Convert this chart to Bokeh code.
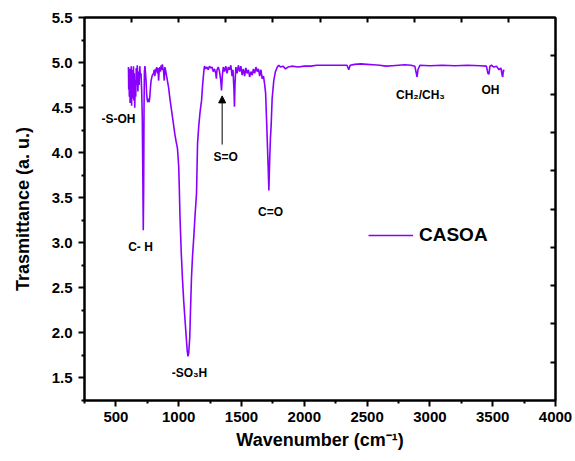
from bokeh.plotting import figure
from bokeh.models import (FixedTicker, LinearAxis, Legend, LegendItem, Arrow, NormalHead,
                          ColumnDataSource, NumeralTickFormatter)
from bokeh.core.properties import value
from bokeh.embed import file_html
from bokeh.resources import INLINE

# ---- data ----
wavenumber = [600, 602, 604, 607, 610, 613, 616, 619, 622, 625, 628, 631, 634, 637, 640, 643, 646, 650,
              654, 658, 662, 666, 670, 675, 680, 685, 690, 695, 700, 705, 710, 714, 718, 721, 724, 727,
              731, 735, 740, 745, 750, 755, 760, 765, 770, 775, 780, 790, 800, 805, 810, 815, 820, 825,
              830, 835, 840, 845, 850, 855, 860, 865, 870, 875, 880, 885, 890, 895, 900, 910, 920, 930,
              940, 950, 960, 970, 980, 990, 1000, 1005, 1010, 1020, 1030, 1040, 1050, 1060, 1068, 1074,
              1080, 1088, 1095, 1102, 1110, 1120, 1130, 1142, 1150, 1160, 1170, 1182, 1192, 1200, 1205,
              1215, 1225, 1235, 1245, 1255, 1265, 1275, 1285, 1295, 1300, 1305, 1315, 1325, 1335, 1341,
              1347, 1355, 1365, 1375, 1385, 1395, 1405, 1415, 1425, 1432, 1440, 1444, 1448, 1455, 1465,
              1475, 1485, 1495, 1505, 1515, 1525, 1535, 1545, 1555, 1565, 1575, 1585, 1595, 1605, 1615,
              1625, 1635, 1645, 1655, 1665, 1675, 1685, 1692, 1700, 1706, 1712, 1718, 1724, 1730, 1736,
              1744, 1757, 1770, 1785, 1797, 1810, 1830, 1850, 1870, 1900, 1950, 2000, 2050, 2100, 2150,
              2200, 2250, 2300, 2340, 2354, 2365, 2400, 2450, 2500, 2550, 2600, 2650, 2700, 2750, 2800,
              2850, 2880, 2898, 2905, 2920, 3000, 3100, 3200, 3300, 3400, 3450, 3462, 3470, 3478, 3490,
              3510, 3530, 3550, 3565, 3575, 3580, 3585, 3590]
transmittance = [4.95, 4.70, 4.88, 4.62, 4.93, 4.55, 4.90, 4.66, 4.96, 4.52, 4.85, 4.60, 4.92, 4.70, 4.96, 4.58, 4.88, 4.50,
                 4.80, 4.62, 4.94, 4.75, 4.97, 4.68, 4.90, 4.75, 4.96, 4.85, 4.88, 4.70, 4.40, 3.80, 3.14, 3.60, 4.50, 4.90,
                 4.96, 4.90, 4.80, 4.65, 4.58, 4.56, 4.60, 4.56, 4.62, 4.72, 4.80, 4.86, 4.88, 4.92, 4.85, 4.93, 4.90, 4.95,
                 4.88, 4.94, 4.80, 4.92, 4.95, 4.90, 4.97, 4.92, 4.98, 4.93, 4.90, 4.80, 4.95, 4.92, 4.88, 4.80, 4.72, 4.60,
                 4.50, 4.40, 4.30, 4.20, 4.12, 4.05, 3.85, 3.60, 3.30, 2.90, 2.60, 2.35, 2.15, 1.95, 1.80, 1.74,
                 1.78, 1.95, 2.30, 2.62, 2.85, 3.06, 3.30, 3.55, 4.10, 4.30, 4.45, 4.58, 4.78, 4.90, 4.96,
                 4.93, 4.95, 4.92, 4.96, 4.94, 4.95, 4.90, 4.93, 4.88, 4.82, 4.92, 4.95, 4.90, 4.80, 4.69,
                 4.85, 4.95, 4.90, 4.96, 4.88, 4.95, 4.92, 4.97, 4.85, 4.92, 4.70, 4.51, 4.75, 4.95, 4.88,
                 4.97, 4.90, 4.96, 4.86, 4.93, 4.85, 4.94, 4.88, 4.92, 4.84, 4.90, 4.86, 4.93, 4.88, 4.95,
                 4.90, 4.93, 4.85, 4.92, 4.82, 4.85, 4.75, 4.66, 4.35, 4.10, 3.85, 3.58, 3.90, 4.15, 4.30,
                 4.60, 4.80, 4.90, 4.95, 4.97, 4.95, 4.96, 4.93, 4.95, 4.96, 4.95, 4.96, 4.96, 4.97, 4.97,
                 4.97, 4.97, 4.97, 4.97, 4.92, 4.97, 4.98, 4.985, 4.98, 4.975, 4.97, 4.96, 4.965, 4.97, 4.975,
                 4.97, 4.96, 4.84, 4.92, 4.97, 4.965, 4.97, 4.965, 4.97, 4.965, 4.96, 4.88, 4.87, 4.96, 4.97,
                 4.95, 4.96, 4.92, 4.94, 4.86, 4.84, 4.92, 4.90]

x_major_ticks = [500, 1000, 1500, 2000, 2500, 3000, 3500, 4000]
x_minor_ticks = [250, 750, 1250, 1750, 2250, 2750, 3250, 3750]
y_major_ticks = [1.5, 2.0, 2.5, 3.0, 3.5, 4.0, 4.5, 5.0, 5.5]
y_minor_ticks = [1.25, 1.75, 2.25, 2.75, 3.25, 3.75, 4.25, 4.75, 5.25]
top_ticks = [625, 1000, 1375, 1750, 2125, 2500, 2875, 3250, 3625]
right_ticks = [5.075, 4.65, 4.225, 3.8, 3.375, 2.95, 2.525, 2.1, 1.675]

ann_text = ["-S-OH", "C- H", "-SO\u2083H", "S=O", "C=O", "CH\u2082/CH\u2083", "OH"]
ann_x = [521, 696, 1086, 1373, 1731, 2925, 3482]
ann_y = [4.37, 2.95, 1.55, 3.95, 3.34, 4.64, 4.69]
arrow_x = 1346
arrow_y_start = 4.09
arrow_y_end = 4.63

series_name = "CASOA"
line_color = "#8a00ff"
font = "Liberation Sans"

p = figure(width=575, height=461, x_range=(250, 4000), y_range=(1.25, 5.5),
           output_backend="svg", toolbar_location=None,
           min_border_left=84, min_border_right=20, min_border_top=17, min_border_bottom=61)
p.xgrid.grid_line_color = None
p.ygrid.grid_line_color = None
p.outline_line_color = "black"
p.outline_line_width = 2
p.background_fill_color = "white"
p.border_fill_color = "white"

r = p.line(wavenumber, transmittance, line_color=line_color, line_width=1.6)

# bottom axis
xa = p.xaxis[0]
xa.ticker = FixedTicker(ticks=x_major_ticks, minor_ticks=x_minor_ticks)
xa.axis_label = "Wavenumber (cm\u207b\u00b9)"
# left axis
ya = p.yaxis[0]
ya.ticker = FixedTicker(ticks=y_major_ticks, minor_ticks=y_minor_ticks)
ya.formatter = NumeralTickFormatter(format="0.0")
ya.axis_label = "Trasmittance (a. u.)"
ya.axis_label_standoff = 16

for ax in (xa, ya):
    ax.axis_line_width = 2
    ax.major_tick_line_width = 2
    ax.minor_tick_line_width = 2
    ax.major_tick_in = 0
    ax.major_tick_out = 6
    ax.minor_tick_in = 0
    ax.minor_tick_out = 3
    ax.major_label_text_font = font
    ax.major_label_text_font_style = "bold"
    ax.major_label_text_font_size = "15px"
    ax.major_label_text_color = "black"
    ax.axis_label_text_font = font
    ax.axis_label_text_font_style = "bold"
    ax.axis_label_text_font_size = "18px"
    ax.axis_label_text_color = "black"
ya.major_label_standoff = 6

# top and right axes (ticks inward, no labels)
top = LinearAxis(ticker=FixedTicker(ticks=top_ticks, minor_ticks=[]),
                 major_label_overrides={t: "" for t in top_ticks})
right = LinearAxis(ticker=FixedTicker(ticks=right_ticks, minor_ticks=[]),
                   major_label_overrides={t: "" for t in right_ticks})
for ax in (top, right):
    ax.axis_line_width = 2
    ax.major_tick_line_width = 2
    ax.major_tick_in = 5
    ax.major_tick_out = 0
    ax.minor_tick_in = 0
    ax.minor_tick_out = 0
    ax.major_label_standoff = 0
p.add_layout(top, "above")
p.add_layout(right, "right")

# annotations
src = ColumnDataSource(dict(x=ann_x, y=ann_y, t=ann_text))
p.text(x="x", y="y", text="t", source=src, text_font=value(font), text_font_style="bold",
       text_font_size="12px", text_align="center", text_baseline="middle", text_color="black")
p.add_layout(Arrow(end=NormalHead(size=7, fill_color="black", line_color="black"),
                   x_start=arrow_x, y_start=arrow_y_start, x_end=arrow_x, y_end=arrow_y_end,
                   line_color="black", line_width=1))

legend = Legend(items=[LegendItem(label=series_name, renderers=[r])], location=(284, 154),
                padding=0, margin=0, border_line_alpha=0, background_fill_alpha=0,
                glyph_width=45, glyph_height=20, label_height=20, label_standoff=6,
                label_text_font=font, label_text_font_style="bold", label_text_font_size="19px",
                label_text_color="black")
p.add_layout(legend)

open("out.html", "w").write(file_html(p, INLINE))
